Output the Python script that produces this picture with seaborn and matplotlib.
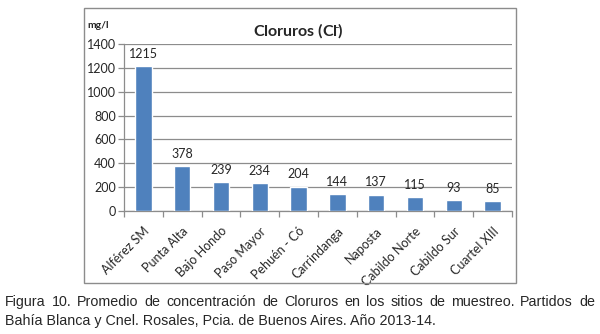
import matplotlib
matplotlib.use("Agg")
import matplotlib.pyplot as plt
import seaborn as sns
import pandas as pd
from matplotlib.patches import Rectangle

sitios = ["Alférez SM", "Punta Alta", "Bajo Hondo", "Paso Mayor", "Pehuén - Có",
          "Carrindanga", "Naposta", "Cabildo Norte", "Cabildo Sur", "Cuartel XIII"]
cloruros = [1215, 378, 239, 234, 204, 144, 137, 115, 93, 85]
y_ticks = [0, 200, 400, 600, 800, 1000, 1200, 1400]
caption_1 = "Figura 10. Promedio de concentración de Cloruros en los sitios de muestreo. Partidos de"
caption_2 = "Bahía Blanca y Cnel. Rosales, Pcia. de Buenos Aires. Año 2013-14."

sns.set_theme(style="white")
plt.rcParams["font.family"] = ["Lato", "DejaVu Sans"]

df = pd.DataFrame({"sitio": sitios, "cl": cloruros})

W, H = 600, 334
fig = plt.figure(figsize=(6.0, 3.34), dpi=100)
ax = fig.add_axes([124 / W, 1 - 211 / H, 388 / W, 167 / H])

# chart frame
fig.patches.append(Rectangle((84 / W, 1 - 283 / H), 432 / W, 275 / H,
                             transform=fig.transFigure, fill=False,
                             edgecolor="#8c8c8c", linewidth=1.0, zorder=0))

sns.barplot(data=df, x="sitio", y="cl", color="#4f81bd", width=0.42,
            saturation=1, ax=ax, zorder=3)

ax.set_ylim(0, 1400)
ax.set_xlim(-0.5, len(sitios) - 0.5)
ax.set_yticks(y_ticks)
ax.set_yticklabels([str(t) for t in y_ticks], fontsize=9)
ax.yaxis.grid(True, color="#8c8c8c", linewidth=0.9, zorder=0)
ax.set_axisbelow(True)

for s in ["top", "right"]:
    ax.spines[s].set_visible(False)
for s in ["left", "bottom"]:
    ax.spines[s].set_color("#8c8c8c")
    ax.spines[s].set_linewidth(0.9)

ax.tick_params(axis="y", which="both", left=True, length=4, width=0.9,
               color="#8c8c8c", pad=2)
ax.set_xticks(range(len(sitios)))
ax.set_xticklabels(sitios, rotation=45, ha="right", rotation_mode="anchor",
                   fontsize=9)
ax.tick_params(axis="x", which="major", bottom=False, pad=4)
ax.set_xticks([i - 0.5 for i in range(len(sitios) + 1)], minor=True)
ax.tick_params(axis="x", which="minor", bottom=True, length=4, width=0.9,
               color="#8c8c8c")
ax.set_xlabel("")
ax.set_ylabel("")

for i, v in enumerate(cloruros):
    ax.annotate(str(v), (i, v), xytext=(0, 4.5), textcoords="offset points",
                ha="center", va="bottom", fontsize=9)

fig.text(298 / W, 1 - 31 / H, r"Cloruros (Cl$^{\bar{}}$)", ha="center",
         va="center", fontsize=11.5, fontweight="bold")
fig.text(87 / W, 1 - 26 / H, "mg/l", ha="left", va="center",
         fontsize=7.5, fontweight="bold")

# caption: first line justified across the page width, second line flush left
cap_font = ["Liberation Sans", "DejaVu Sans"]
cap_size = 10.3
renderer = fig.canvas.get_renderer()
words = caption_1.split(" ")
widths = []
for w in words:
    t = fig.text(0, 0, w, fontsize=cap_size, family=cap_font)
    widths.append(t.get_window_extent(renderer).width)
    t.remove()
left_px, right_px = 5, 595
gap = (right_px - left_px - sum(widths)) / (len(words) - 1)
x = left_px
for w, wd in zip(words, widths):
    fig.text(x / W, 1 - 302 / H, w, ha="left", va="center",
             fontsize=cap_size, family=cap_font)
    x += wd + gap
fig.text(left_px / W, 1 - 321 / H, caption_2, ha="left", va="center",
         fontsize=cap_size, family=cap_font)

fig.savefig("out.png", dpi=100)
